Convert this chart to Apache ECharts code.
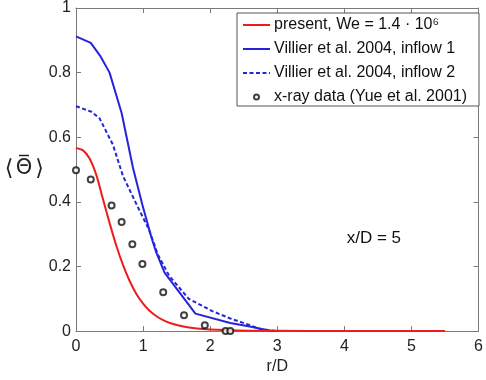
<!DOCTYPE html>
<html>
<head>
<meta charset="utf-8">
<script src="https://cdn.jsdelivr.net/npm/echarts@6/dist/echarts.min.js"></script>
<style>
  html, body { margin: 0; padding: 0; background: #fff; }
  #chart { width: 486px; height: 380px; }
</style>
</head>
<body>
<div id="chart"></div>
<script>
// present simulation, We = 1.4e6
const presentR = [0, 0.1, 0.2, 0.3, 0.4, 0.5, 0.6, 0.7, 0.8, 0.9, 1.0, 1.1, 1.2, 1.3, 1.4, 1.6, 1.8, 2.0, 2.4, 3.0, 4.0, 5.5];
const presentTheta = [0.567, 0.56, 0.535, 0.485, 0.41, 0.335, 0.265, 0.205, 0.155, 0.115, 0.085, 0.062, 0.046, 0.034, 0.025, 0.014, 0.008, 0.005, 0.002, 0.001, 0, 0];

// Villier et al. 2004, inflow 1
const inflow1R = [0, 0.22, 0.36, 0.5, 0.68, 0.85, 0.99, 1.12, 1.19, 1.32, 1.78, 2.3, 2.57, 2.9, 3.0];
const inflow1Theta = [0.912, 0.892, 0.852, 0.8, 0.675, 0.505, 0.39, 0.293, 0.247, 0.181, 0.054, 0.025, 0.015, 0.001, 0];

// Villier et al. 2004, inflow 2
const inflow2R = [0, 0.23, 0.35, 0.55, 0.7, 0.945, 1.09, 1.22, 1.39, 1.68, 2.03, 2.3, 2.57, 2.75, 3.0];
const inflow2Theta = [0.696, 0.679, 0.659, 0.577, 0.48, 0.374, 0.313, 0.237, 0.171, 0.1, 0.062, 0.039, 0.02, 0.006, 0];

// x-ray data (Yue et al. 2001)
const xrayR = [0, 0.22, 0.53, 0.68, 0.84, 0.99, 1.3, 1.61, 1.92, 2.23, 2.3];
const xrayTheta = [0.498, 0.469, 0.389, 0.338, 0.269, 0.208, 0.12, 0.049, 0.018, 0.0, 0.0];

const seriesNames = [
  'present, We = 1.4 · 10⁶',
  'Villier et al. 2004, inflow 1',
  'Villier et al. 2004, inflow 2',
  'x-ray data (Yue et al. 2001)'
];

const annotation = { text: 'x/D = 5', r: 4.44, theta: 0.288 };

const pairs = (xs, ys) => xs.map((x, i) => [x, ys[i]]);

const axisGray = '#7a7a7a';
const red = '#ee1c1c';
const blue = '#2424dc';
const font = '"Liberation Sans", Arial, Helvetica, sans-serif';
const mathFont = '"DejaVu Sans", sans-serif';

const chart = echarts.init(document.getElementById('chart'));

const boxAxis = {
  min: 0,
  axisLine: { show: true, onZero: false, lineStyle: { color: axisGray, width: 1 } },
  axisTick: { show: true, inside: true, length: 5, lineStyle: { color: axisGray } },
  splitLine: { show: false }
};

// line entries hide the marker dot the legend adds to line icons
const legendData = seriesNames.map((name, i) =>
  i < 3 ? { name, itemStyle: { opacity: 0 } } : { name });

const mathText = (x, text, size) => ({
  type: 'text', x, y: 17,
  style: { text, fontSize: size, fontFamily: mathFont, fill: '#222', align: 'center', verticalAlign: 'middle' }
});

chart.setOption({
  animation: false,
  backgroundColor: '#fff',
  textStyle: { fontFamily: font },
  grid: { left: 76, right: 4, top: 8, bottom: 44 },
  legend: {
    orient: 'vertical',
    left: 237,
    top: 13,
    padding: [4, 12, 1, 5],
    itemGap: 8,
    itemWidth: 27,
    itemHeight: 5,
    backgroundColor: '#fff',
    borderColor: '#555',
    borderWidth: 1,
    borderRadius: 0,
    data: legendData,
    textStyle: {
      color: '#111',
      fontFamily: font,
      fontSize: 16,
      lineHeight: 16,
      padding: [0, 0, 0, -1]
    }
  },
  xAxis: [
    Object.assign({}, boxAxis, {
      type: 'value', position: 'bottom', max: 6, interval: 1,
      name: 'r/D', nameLocation: 'middle', nameGap: 24,
      nameTextStyle: { fontSize: 16, color: '#222', fontFamily: font },
      axisLabel: { fontSize: 16, color: '#222', margin: 7, fontFamily: font }
    }),
    Object.assign({}, boxAxis, {
      type: 'value', position: 'top', max: 6, interval: 1,
      axisLabel: { show: false }
    })
  ],
  yAxis: [
    Object.assign({}, boxAxis, {
      type: 'value', position: 'left', max: 1, interval: 0.2,
      axisLabel: { fontSize: 16, color: '#222', margin: 5, fontFamily: font }
    }),
    Object.assign({}, boxAxis, {
      type: 'value', position: 'right', max: 1, interval: 0.2,
      axisLabel: { show: false }
    })
  ],
  // y label ⟨Θ̄⟩: brackets, theta and its bar drawn as one group
  graphic: [{
    id: 'ylabel', type: 'group', x: 0, y: 152,
    children: [
      mathText(9, '⟨', 22),
      mathText(24, 'Θ', 21),
      { type: 'line', shape: { x1: 19, y1: 3.5, x2: 29, y2: 3.5 }, style: { stroke: '#222', lineWidth: 1.5 } },
      mathText(39.5, '⟩', 22)
    ]
  }],
  series: [
    {
      name: seriesNames[0], type: 'line', symbol: 'none',
      smooth: 0.3,
      lineStyle: { color: red, width: 2 }, itemStyle: { color: red },
      data: pairs(presentR, presentTheta), z: 4
    },
    {
      name: seriesNames[1], type: 'line', symbol: 'none',
      lineStyle: { color: blue, width: 2 }, itemStyle: { color: blue },
      data: pairs(inflow1R, inflow1Theta), z: 3
    },
    {
      name: seriesNames[2], type: 'line', symbol: 'none',
      lineStyle: { color: blue, width: 2, type: [4, 2.5] }, itemStyle: { color: blue },
      data: pairs(inflow2R, inflow2Theta), z: 3
    },
    {
      name: seriesNames[3], type: 'scatter', symbol: 'emptyCircle', symbolSize: 6,
      itemStyle: { color: '#111', borderColor: '#111', borderWidth: 1.5 },
      data: pairs(xrayR, xrayTheta), z: 5
    }
  ]
});

// annotation placed via the chart's own coordinate system
const pos = chart.convertToPixel({ xAxisIndex: 0, yAxisIndex: 0 }, [annotation.r, annotation.theta]);
chart.setOption({
  graphic: [{
    id: 'note', type: 'text', x: pos[0], y: pos[1], z: 10,
    style: {
      text: annotation.text, fontSize: 17, fontFamily: font, fill: '#111',
      align: 'center', verticalAlign: 'middle'
    }
  }]
});
</script>
</body>
</html>
